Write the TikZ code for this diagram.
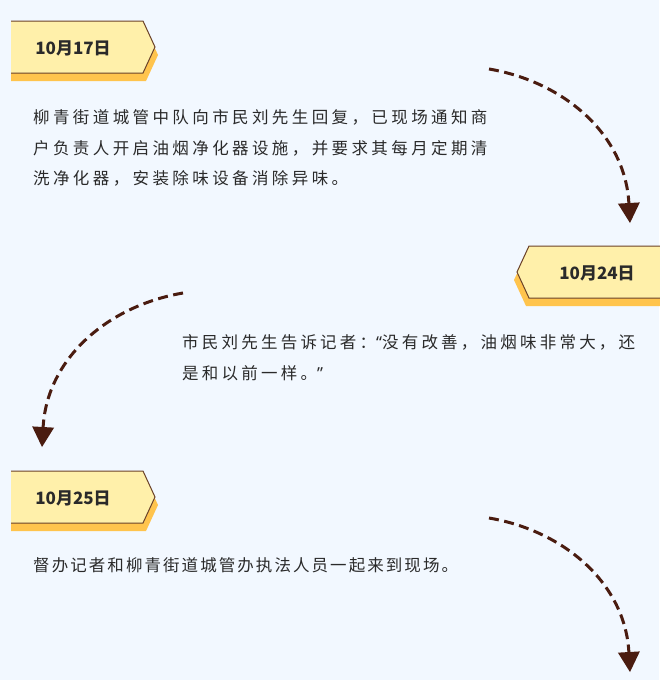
\documentclass[tikz,border=0pt]{standalone}
\usepackage{fontspec}
\setmainfont{Noto Sans CJK SC}
\newfontfamily\cjkA[LetterSpace=20.6]{Noto Sans CJK SC}
\newfontfamily\cjkB[LetterSpace=19.5]{Noto Sans CJK SC}
\newfontfamily\cjkC[LetterSpace=12.5]{Noto Sans CJK SC}
\newfontfamily\latq{Noto Sans}
\usetikzlibrary{arrows.meta}
\definecolor{bgc}{HTML}{F2F8FF}
\definecolor{tagfill}{HTML}{FFF0AA}
\definecolor{tagshadow}{HTML}{FFC44D}
\definecolor{tagline}{HTML}{6A4128}
\definecolor{arrowc}{HTML}{4A1C10}
\definecolor{txtc}{HTML}{2A2A2A}
\tikzset{
  flow/.style={draw=arrowc, line width=3pt, dash pattern=on 10pt off 5.5pt,
    -{Triangle[width=22pt,length=20pt,line width=0pt]}},
  bodytxt/.style={inner sep=0pt, anchor=base west, text=txtc, font=\fontsize{16.5pt}{20pt}\selectfont},
  tagtxt/.style={inner sep=0pt, text=txtc, font=\fontsize{17pt}{20pt}\selectfont\bfseries},
  tagbody/.style={fill=tagfill},
  tagedge/.style={draw=tagline, line width=1pt, line join=miter},
  tagshade/.style={fill=tagshadow}
}
\begin{document}
\begin{tikzpicture}[x=1pt,y=-1pt]
\fill[bgc] (0,0) rectangle (659,680);
\useasboundingbox (0,0) rectangle (659,680);

% ---- tag 1
\fill[tagshade] (11,29) -- (146,29) -- (158,55) -- (146,81) -- (11,81) -- cycle;
\fill[tagbody] (11,21) -- (143,21) -- (155,47) -- (143,73) -- (11,73) -- cycle;
\draw[tagedge] (11,21) -- (143,21) -- (155,47) -- (143,73) -- (11,73);
\node[tagtxt] (t1) at (73,48) {10月17日};

% ---- tag 2
\fill[tagshade] (662,254) -- (526,254) -- (514,280) -- (526,306) -- (662,306) -- cycle;
\fill[tagbody] (662,246) -- (529,246) -- (517,272) -- (529,298) -- (662,298) -- cycle;
\draw[tagedge] (662,246) -- (529,246) -- (517,272) -- (529,298) -- (662,298);
\node[tagtxt] (t2) at (597,273) {10月24日};

% ---- tag 3
\fill[tagshade] (11,479) -- (146,479) -- (158,505) -- (146,531) -- (11,531) -- cycle;
\fill[tagbody] (11,471) -- (143,471) -- (155,497) -- (143,523) -- (11,523) -- cycle;
\draw[tagedge] (11,471) -- (143,471) -- (155,497) -- (143,523) -- (11,523);
\node[tagtxt] (t3) at (73,498) {10月25日};

% ---- paragraph 1
\node[bodytxt] (p1a) at (33,123) {\cjkA 柳青街道城管中队向市民刘先生回复，已现场通知商};
\node[bodytxt] (p1b) at (33,154) {\cjkA 户负责人开启油烟净化器设施，并要求其每月定期清};
\node[bodytxt] (p1c) at (33,184) {\cjkA 洗净化器，安装除味设备消除异味。};

% ---- paragraph 2
\node[bodytxt] (p2a) at (182,348) {\cjkB 市民刘先生告诉记者：{\latq “}没有改善，油烟味非常大，还};
\node[bodytxt] (p2b) at (182,379) {\cjkB 是和以前一样。{\latq ”}};

% ---- paragraph 3
\node[bodytxt] (p3a) at (33,571) {\cjkC 督办记者和柳青街道城管办执法人员一起来到现场。};

% ---- arrows
\coordinate (a1s) at (489,69);
\coordinate (a1e) at (630,223);
\coordinate (a2s) at (183,293);
\coordinate (a2e) at (42,447);
\coordinate (a3s) at (489,518);
\coordinate (a3e) at (630,672);
\draw[flow] (a1s) .. controls (565,82) and (625,135) .. (a1e);
\draw[flow] (a2s) .. controls (107,306) and (47,359) .. (a2e);
\draw[flow] (a3s) .. controls (565,531) and (625,584) .. (a3e);
\end{tikzpicture}
\end{document}
